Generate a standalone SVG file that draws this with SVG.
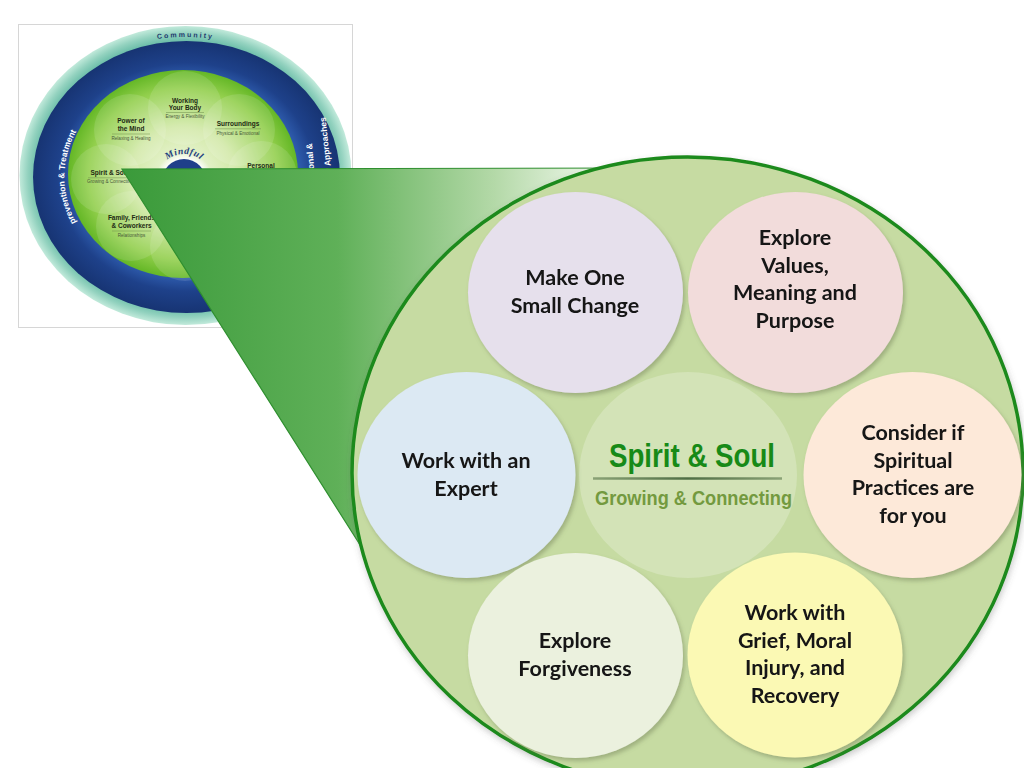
<svg xmlns="http://www.w3.org/2000/svg" width="1024" height="768" viewBox="0 0 1024 768">
<defs>
<style>
.lbl{font-family:Lato,"Liberation Sans",sans-serif;font-weight:700;font-size:21.5px;fill:#151515;text-anchor:middle}
.wt{font-family:"Liberation Sans",Arial,sans-serif;font-weight:700;font-size:6.5px;fill:#1e2a14;text-anchor:middle}
.ws{font-family:"Liberation Sans",Arial,sans-serif;font-size:4.6px;fill:#4a5a3a;text-anchor:middle}
.ring{font-family:"Liberation Sans",Arial,sans-serif;font-weight:700;font-size:8.5px;fill:#ffffff}
.petal{fill:#ffffff;opacity:.12}
.sep{stroke:#6d8f4a;stroke-width:.5}
</style>
<radialGradient id="teal" cx="50%" cy="50%" r="50%">
<stop offset="0.88" stop-color="#5db6a1"/>
<stop offset="0.95" stop-color="#93d2bf"/>
<stop offset="1" stop-color="#c2eadb"/>
</radialGradient>
<radialGradient id="navy" cx="50%" cy="50%" r="50%">
<stop offset="0.74" stop-color="#2d5aab"/>
<stop offset="0.84" stop-color="#1e418a"/>
<stop offset="1" stop-color="#173473"/>
</radialGradient>
<radialGradient id="lime" cx="50%" cy="50%" r="50%">
<stop offset="0" stop-color="#f3f9e6"/>
<stop offset="0.45" stop-color="#d2e9a8"/>
<stop offset="0.82" stop-color="#92cf4c"/>
<stop offset="1" stop-color="#64b726"/>
</radialGradient>
<radialGradient id="glow" cx="50%" cy="50%" r="50%">
<stop offset="0.75" stop-color="#ffffff" stop-opacity=".9"/>
<stop offset="1" stop-color="#ffffff" stop-opacity="0"/>
</radialGradient>
<linearGradient id="funnel" gradientUnits="userSpaceOnUse" x1="122" y1="0" x2="600" y2="0">
<stop offset="0" stop-color="#3a9a3a"/>
<stop offset="0.45" stop-color="#5fb058"/>
<stop offset="0.78" stop-color="#b4d9a8"/>
<stop offset="1" stop-color="#f0f8ec"/>
</linearGradient>
<linearGradient id="rule" gradientUnits="userSpaceOnUse" x1="593" y1="0" x2="782" y2="0">
<stop offset="0" stop-color="#8aa276"/>
<stop offset="0.5" stop-color="#4f6e45"/>
<stop offset="1" stop-color="#8aa276"/>
</linearGradient>
<filter id="sh" x="-10%" y="-10%" width="125%" height="125%">
<feDropShadow dx="2" dy="3" stdDeviation="2" flood-color="#6f7d55" flood-opacity=".45"/>
</filter>
<filter id="shBig" x="-10%" y="-10%" width="125%" height="125%">
<feDropShadow dx="1" dy="3" stdDeviation="3" flood-color="#555" flood-opacity=".3"/>
</filter>
<path id="pCommunity" d="M25.5,175.5 A160,138.5 0 0 1 345.5,175.5"/>
<path id="pPrev" d="M100.2,252 A122,106 0 0 1 100.2,102"/>
<path id="pMind" d="M160.6,167.5 A27,27 0 0 1 207.4,167.5"/>
</defs>

<rect width="1024" height="768" fill="#ffffff"/>

<g id="wellness-wheel">
<rect x="18.5" y="24.5" width="334" height="303" fill="#ffffff" stroke="#d6d6d6"/>
<ellipse cx="185.5" cy="175.5" rx="166" ry="149.5" fill="url(#teal)"/>
<ellipse cx="186.5" cy="177" rx="153.5" ry="136" fill="url(#navy)"/>
<ellipse cx="183" cy="174" rx="115" ry="104" fill="url(#lime)"/>
<circle class="petal" cx="185" cy="108" r="37"/>
<circle class="petal" cx="130" cy="130" r="36"/>
<circle class="petal" cx="239" cy="130" r="36"/>
<circle class="petal" cx="262" cy="176" r="35"/>
<circle class="petal" cx="106" cy="179" r="35"/>
<circle class="petal" cx="131" cy="226" r="35"/>
<circle class="petal" cx="185" cy="246" r="35"/>
<circle class="petal" cx="240" cy="226" r="35"/>
<circle cx="184" cy="181" r="29" fill="url(#glow)"/>
<circle cx="184" cy="181" r="22" fill="#1f3f8a"/>
<text font-family="'Liberation Serif',serif" font-style="italic" font-weight="700" font-size="9.5" fill="#1f3f80" letter-spacing=".6"><textPath href="#pMind" startOffset="50%" text-anchor="middle">Mindful</textPath></text>
<text font-family="'Liberation Sans',Arial,sans-serif" font-weight="700" font-size="7" fill="#1f3a6e" letter-spacing="2"><textPath href="#pCommunity" startOffset="50%" text-anchor="middle">Community</textPath></text>
<text class="ring"><textPath href="#pPrev" startOffset="50%" text-anchor="middle">prevention &amp; Treatment</textPath></text>
<text class="ring" x="312" y="143" text-anchor="end" transform="rotate(-94.6 312 143)">onal &amp;</text>
<text class="ring" x="325.5" y="117" text-anchor="end" transform="rotate(-96 325.5 117)">y Approaches</text>
<text class="wt" x="185" y="102.5">Working</text>
<text class="wt" x="185" y="109.5">Your Body</text>
<line class="sep" x1="166" y1="112.5" x2="204" y2="112.5"/>
<text class="ws" x="185" y="118">Energy &amp; Flexibility</text>
<text class="wt" x="131" y="123">Power of</text>
<text class="wt" x="131" y="131">the Mind</text>
<line class="sep" x1="112" y1="134" x2="150" y2="134"/>
<text class="ws" x="131" y="139.5">Relaxing &amp; Healing</text>
<text class="wt" x="238" y="126">Surroundings</text>
<line class="sep" x1="215" y1="128.8" x2="261" y2="128.8"/>
<text class="ws" x="238" y="134.5">Physical &amp; Emotional</text>
<text class="wt" x="261" y="167.5">Personal</text>
<text class="wt" x="110" y="175">Spirit &amp; Soul</text>
<line class="sep" x1="88" y1="177.8" x2="132" y2="177.8"/>
<text class="ws" x="110" y="182.5">Growing &amp; Connecting</text>
<text class="wt" x="131.5" y="220">Family, Friends</text>
<text class="wt" x="131.5" y="228">&amp; Coworkers</text>
<line class="sep" x1="112" y1="231" x2="151" y2="231"/>
<text class="ws" x="131.5" y="236.5">Relationships</text>
</g>

<g id="connectors">
<polygon points="122,169 640,168 687,473 362,548" fill="url(#funnel)"/>
<path d="M640,168 L122,169 L362,548" fill="none" stroke="#2f8f2f" stroke-width="1.2"/>
</g>

<g id="spirit-soul-zoom">
<ellipse cx="687.5" cy="473" rx="335.5" ry="316" fill="#c6dba2" stroke="#1b8a1b" stroke-width="3.5" filter="url(#shBig)"/>
</g>

<g id="node-center">
<ellipse cx="688" cy="475" rx="109" ry="103" fill="#d3e3b7"/>
<text x="692" y="467" font-family="'Liberation Sans',Arial,sans-serif" font-weight="700" font-size="33" fill="#178a17" text-anchor="middle" textLength="166" lengthAdjust="spacingAndGlyphs">Spirit &amp; Soul</text>
<line x1="593" y1="478.5" x2="782" y2="478.5" stroke="url(#rule)" stroke-width="2.5"/>
<text x="693.5" y="505" font-family="'Liberation Sans',Arial,sans-serif" font-weight="700" font-size="20" fill="#739a3f" text-anchor="middle" textLength="197" lengthAdjust="spacingAndGlyphs">Growing &amp; Connecting</text>
</g>

<g id="node-make-one-small-change" filter="url(#sh)">
<ellipse cx="575.5" cy="292.5" rx="107.5" ry="100.5" fill="#e6e0ec"/>
<text class="lbl" x="575" y="285">Make One</text>
<text class="lbl" x="575" y="312.5">Small Change</text>
</g>

<g id="node-explore-values" filter="url(#sh)">
<ellipse cx="795.5" cy="292.5" rx="107.5" ry="100.5" fill="#f2dcdb"/>
<text class="lbl" x="795" y="245">Explore</text>
<text class="lbl" x="795" y="272.5">Values,</text>
<text class="lbl" x="795" y="300">Meaning and</text>
<text class="lbl" x="795" y="327.5">Purpose</text>
</g>

<g id="node-work-with-expert" filter="url(#sh)">
<ellipse cx="466.5" cy="475" rx="109" ry="103" fill="#dce9f3"/>
<text class="lbl" x="466" y="468">Work with an</text>
<text class="lbl" x="466" y="495.5">Expert</text>
</g>

<g id="node-consider-spiritual-practices" filter="url(#sh)">
<ellipse cx="912.5" cy="475" rx="109" ry="103" fill="#fde9d9"/>
<text class="lbl" x="913" y="440">Consider if</text>
<text class="lbl" x="913" y="467.5">Spiritual</text>
<text class="lbl" x="913" y="495">Practices are</text>
<text class="lbl" x="913" y="522.5">for you</text>
</g>

<g id="node-explore-forgiveness" filter="url(#sh)">
<ellipse cx="575.5" cy="655.5" rx="107.5" ry="102.5" fill="#ebf1de"/>
<text class="lbl" x="575" y="648">Explore</text>
<text class="lbl" x="575" y="675.5">Forgiveness</text>
</g>

<g id="node-work-with-grief" filter="url(#sh)">
<ellipse cx="795" cy="655" rx="107.5" ry="102.5" fill="#fbf9b4"/>
<text class="lbl" x="795" y="620">Work with</text>
<text class="lbl" x="795" y="647.5">Grief, Moral</text>
<text class="lbl" x="795" y="675">Injury, and</text>
<text class="lbl" x="795" y="702.5">Recovery</text>
</g>
</svg>
